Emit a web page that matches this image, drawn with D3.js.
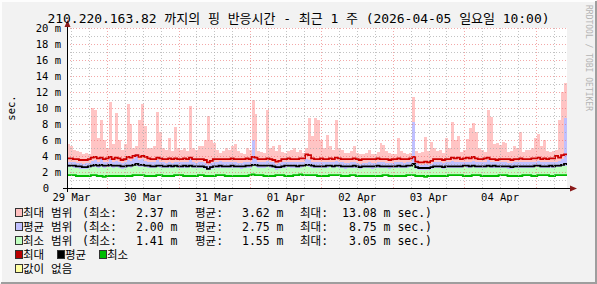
<!DOCTYPE html>
<html>
<head>
<meta charset="utf-8">
<script src="https://cdn.jsdelivr.net/npm/d3@7"></script>
<style>
  body { margin: 0; background: #f2f2f2; }
  svg text { font-family: "DejaVu Sans Mono", "Noto Sans CJK KR", monospace; white-space: pre; }
</style>
</head>
<body>
<svg id="chart" width="597" height="284"></svg>
<script>
// hourly samples, 2026-03-29 10:30 UTC .. 2026-04-05 10:30 UTC (168 hours)
const maxHi = [
  5.5,5.2,4.8,4.6,4.5,4.3,4.4,4.2,10.0,9.8, 6.2,8.5,6.0,5.0,10.7,5.5,9.4,6.0,4.8,5.5,
  10.5,8.0,5.0,5.2,8.5,10.5,7.8,5.0,5.0,5.2, 9.5,7.0,5.0,4.8,6.2,4.6,7.6,5.0,4.7,5.0,
  4.6,10.3,5.0,4.8,5.2,5.3,6.0,9.0,6.0,5.6, 4.8,4.4,4.6,5.0,4.8,5.2,5.5,4.6,4.4,4.3,
  5.0,4.8,11.0,9.3,4.6,4.5,4.4,9.7,5.0,5.2, 4.6,5.4,4.5,4.4,4.6,4.7,5.0,4.5,4.8,4.4,
  5.0,8.8,6.5,8.8,8.5,6.0,5.0,6.6,5.2,4.8, 8.5,5.0,4.8,4.4,4.4,4.6,5.3,4.4,4.2,4.3,
  4.4,4.8,4.3,4.2,4.5,5.6,5.4,4.6,4.4,4.3, 4.2,6.3,4.6,4.4,4.2,4.4,11.4,4.6,4.4,4.5,
  6.4,4.6,5.8,5.0,4.6,4.7,4.4,6.2,5.0,8.3, 6.0,6.5,4.5,4.8,6.1,7.5,8.1,7.0,5.0,4.8,
  4.5,9.7,8.9,5.5,5.6,5.4,5.8,5.6,4.5,4.6, 5.3,5.0,7.0,4.5,4.7,4.8,5.0,6.2,6.8,5.2,
  6.0,4.6,4.5,4.6,4.8,8.5,12.0,13.08
];
const maxLine = [
  3.7,3.7,3.6,3.6,3.5,3.5,3.5,3.6,3.8,3.9, 3.7,3.8,3.6,3.7,3.9,3.6,3.8,3.7,3.5,3.6,
  3.9,3.8,4.0,4.1,3.9,4.0,3.9,3.7,3.6,3.6, 3.8,3.7,3.6,3.6,3.7,3.6,3.7,3.6,3.6,3.7,
  3.6,3.8,3.6,3.6,3.6,3.6,3.5,3.2,3.4,3.6, 3.6,3.6,3.6,3.6,3.6,3.7,3.6,3.6,3.6,3.6,
  3.7,3.6,3.9,3.8,3.6,3.6,3.6,3.7,3.6,3.5, 3.3,3.4,3.6,3.6,3.7,3.6,3.6,3.6,3.7,3.7,
  4.2,4.1,3.7,3.6,3.6,3.7,3.6,3.6,3.7,3.6, 3.8,3.7,3.6,3.6,3.6,3.6,3.7,3.6,3.5,3.6,
  3.6,3.6,3.6,3.6,3.7,3.6,3.6,3.6,3.5,3.6, 3.6,3.7,3.6,3.6,3.6,3.7,3.9,3.3,3.2,3.2,
  3.3,3.2,3.4,3.6,3.6,3.6,3.5,3.6,3.6,3.8, 3.7,3.8,3.6,3.7,3.8,3.7,3.9,3.7,3.6,3.6,
  3.7,3.8,3.6,3.6,3.5,3.6,3.6,3.6,3.6,3.5, 3.6,3.6,3.7,3.6,3.6,3.6,3.7,3.7,3.8,3.6,
  3.7,3.6,3.7,3.7,4.0,3.8,4.1,4.2
];
const avgHi = [
  3.3,3.2,3.2,3.1,3.1,3.0,3.1,3.1,3.4,3.5, 3.3,3.9,3.3,3.3,3.6,3.2,3.4,3.3,3.1,3.2,
  3.5,3.4,3.6,4.3,3.5,3.6,3.4,3.3,3.2,3.2, 3.5,3.3,3.2,3.1,3.3,3.1,3.3,3.2,3.2,3.3,
  3.2,3.6,3.2,3.1,3.2,3.2,3.1,2.9,3.1,3.3, 3.2,3.4,3.2,3.2,3.2,3.3,3.2,3.1,3.1,3.2,
  3.3,3.2,6.0,3.6,3.3,3.2,3.2,3.4,3.3,3.2, 3.0,3.1,3.2,3.2,3.3,3.3,3.3,3.2,3.3,3.3,
  3.6,3.5,3.3,3.2,3.2,3.2,3.2,3.3,3.3,3.2, 3.4,3.3,3.2,3.1,3.1,3.2,3.3,3.1,3.0,3.1,
  3.1,3.2,3.1,3.1,3.2,3.2,3.2,3.1,3.1,3.1, 3.2,3.3,3.2,3.1,3.2,3.3,8.2,3.1,2.9,2.9,
  3.0,2.9,3.0,3.2,3.2,3.2,3.1,3.2,3.2,3.4, 3.2,3.3,3.2,3.3,3.3,3.3,3.4,3.3,3.2,3.2,
  3.2,3.5,3.2,3.3,3.2,3.2,3.2,3.2,3.1,3.1, 3.2,3.2,3.3,3.2,3.2,3.2,3.3,3.3,3.4,3.2,
  3.2,3.2,3.3,3.2,3.3,3.4,3.6,8.75
];
const avgLine = [
  2.8,2.8,2.8,2.7,2.7,2.6,2.6,2.7,2.8,2.9, 2.8,2.9,2.8,2.8,2.9,2.8,2.8,2.8,2.7,2.7,
  2.8,2.8,2.9,3.0,2.9,2.9,2.8,2.8,2.7,2.7, 2.8,2.8,2.7,2.7,2.8,2.7,2.8,2.7,2.7,2.8,
  2.7,2.8,2.7,2.7,2.7,2.7,2.6,2.4,2.6,2.7, 2.7,2.8,2.7,2.7,2.7,2.8,2.7,2.7,2.7,2.7,
  2.8,2.8,2.9,2.9,2.8,2.8,2.8,2.8,2.8,2.7, 2.6,2.6,2.7,2.8,2.8,2.8,2.8,2.7,2.8,2.8,
  2.9,2.9,2.8,2.7,2.7,2.7,2.7,2.8,2.8,2.7, 2.8,2.8,2.7,2.7,2.7,2.7,2.8,2.7,2.6,2.7,
  2.7,2.7,2.7,2.7,2.8,2.7,2.7,2.7,2.7,2.7, 2.7,2.8,2.7,2.7,2.8,2.8,3.0,2.6,2.5,2.5,
  2.5,2.5,2.6,2.7,2.7,2.7,2.6,2.7,2.7,2.7, 2.7,2.7,2.7,2.8,2.8,2.7,2.8,2.7,2.7,2.7,
  2.7,2.8,2.7,2.8,2.7,2.7,2.7,2.7,2.7,2.6, 2.7,2.7,2.7,2.7,2.7,2.7,2.7,2.8,2.8,2.7,
  2.7,2.7,2.8,2.7,2.8,2.8,2.9,3.0
];
const minHi = [
  2.6,2.6,2.5,2.5,2.4,2.4,2.4,2.5,2.6,2.6, 2.5,2.6,2.5,2.6,2.6,2.5,2.6,2.5,2.4,2.5,
  2.6,2.5,2.7,2.7,2.6,2.6,2.6,2.5,2.5,2.5, 2.6,2.5,2.5,2.5,2.5,2.5,2.6,2.5,2.5,2.5,
  2.5,2.6,2.5,2.5,2.5,2.5,2.4,2.2,2.4,2.5, 2.5,2.5,2.5,2.5,2.5,2.5,2.5,2.5,2.4,2.5,
  2.5,2.5,2.7,2.6,2.5,2.5,2.5,2.6,2.5,2.5, 2.3,2.4,2.5,2.5,2.6,2.5,2.5,2.5,2.5,2.6,
  2.7,2.6,2.5,2.5,2.5,2.5,2.5,2.5,2.6,2.5, 2.6,2.5,2.5,2.4,2.5,2.5,2.5,2.5,2.4,2.5,
  2.5,2.5,2.4,2.5,2.5,2.5,2.5,2.5,2.4,2.5, 2.5,2.5,2.5,2.5,2.5,2.6,3.05,2.4,2.3,2.3,
  2.3,2.3,2.4,2.5,2.5,2.5,2.4,2.5,2.5,2.5, 2.5,2.5,2.5,2.6,2.5,2.5,2.6,2.5,2.5,2.5,
  2.5,2.6,2.5,2.5,2.5,2.5,2.5,2.5,2.4,2.4, 2.5,2.5,2.5,2.5,2.5,2.5,2.5,2.6,2.6,2.5,
  2.5,2.5,2.5,2.5,2.6,2.6,2.7,2.8
];
const minLine = [
  1.6,1.6,1.6,1.5,1.5,1.5,1.5,1.5,1.6,1.6, 1.5,1.5,1.4,1.5,1.5,1.5,1.5,1.5,1.5,1.5,
  1.5,1.5,1.6,1.6,1.6,1.6,1.5,1.5,1.5,1.5, 1.6,1.6,1.5,1.5,1.5,1.5,1.6,1.6,1.6,1.5,
  1.5,1.5,1.5,1.5,1.6,1.6,1.5,1.5,1.5,1.5, 1.6,1.6,1.6,1.5,1.5,1.5,1.5,1.5,1.5,1.5,
  1.5,1.6,1.7,1.6,1.6,1.6,1.5,1.5,1.5,1.5, 1.6,1.6,1.6,1.5,1.5,1.5,1.6,1.6,1.7,1.6,
  1.6,1.6,1.6,1.6,1.5,1.5,1.5,1.5,1.6,1.6, 1.6,1.6,1.5,1.5,1.5,1.6,1.6,1.5,1.5,1.5,
  1.5,1.5,1.5,1.5,1.5,1.5,1.6,1.6,1.5,1.5, 1.5,1.5,1.5,1.5,1.6,1.6,1.6,1.5,1.5,1.5,
  1.4,1.5,1.5,1.5,1.5,1.5,1.5,1.5,1.6,1.6, 1.6,1.6,1.6,1.5,1.5,1.5,1.6,1.6,1.6,1.5,
  1.5,1.5,1.5,1.5,1.5,1.6,1.6,1.6,1.5,1.5, 1.5,1.5,1.5,1.6,1.6,1.6,1.5,1.5,1.6,1.6,
  1.6,1.6,1.5,1.5,1.6,1.6,1.6,1.6
];

const yTicks = [2, 4, 6, 8, 10, 12, 14, 16, 18, 20];
const title = "210.220.163.82 까지의 핑 반응시간 - 최근 1 주 (2026-04-05 일요일 10:00)";
const rangeNames = ["최대 범위", "평균 범위", "최소 범위"];
const statMin = ["2.37", "2.00", "1.41"];
const statAvg = ["3.62", "2.75", "1.55"];
const statMax = ["13.08", "8.75", "3.05"];
const lineNames = ["최대", "평균", "최소"];

const W = 597, H = 284;
const t0 = new Date(Date.UTC(2026, 2, 29, 10, 30));
const t1 = new Date(Date.UTC(2026, 3, 5, 10, 30));
const hour = 3600 * 1000;

const svg = d3.select("#chart");
const x = d3.scaleTime().domain([t0, t1]).range([67, 567]);
const y = d3.scaleLinear().domain([0, 20]).range([188, 28]);

// frame
svg.append("rect").attr("width", W).attr("height", H).attr("fill", "#f2f2f2");
svg.append("path").attr("d", `M1,${H - 1}V1H${W - 1}`).attr("fill", "none").attr("stroke", "#fdfdfd").attr("stroke-width", 2);
svg.append("path").attr("d", `M1,${H - 1}H${W - 1}V1`).attr("fill", "none").attr("stroke", "#9e9e9e").attr("stroke-width", 2);

// canvas
svg.append("rect").attr("x", 67).attr("y", 28).attr("width", 500).attr("height", 160).attr("fill", "#fff");

const rows = maxHi.map((v, i) => ({
  t: new Date(t0.getTime() + i * hour),
  maxHi: v, maxLine: maxLine[i], avgHi: avgHi[i], avgLine: avgLine[i],
  minHi: minHi[i], minLine: minLine[i]
}));
rows.push({ ...rows[rows.length - 1], t: t1 });

const band = key => d3.area().curve(d3.curveStepAfter)
  .x(d => x(d.t)).y0(d => y(d.minLine)).y1(d => y(d[key]));
const line = key => d3.line().curve(d3.curveStepAfter)
  .x(d => x(d.t)).y(d => y(d[key]));

const g = svg.append("g");
g.append("path").datum(rows).attr("d", band("maxHi")).attr("fill", "#ffc4c4").attr("shape-rendering", "crispEdges");
g.append("path").datum(rows).attr("d", band("avgHi")).attr("fill", "#c0c0ff").attr("shape-rendering", "crispEdges");
g.append("path").datum(rows).attr("d", band("minHi")).attr("fill", "#c0ffc0").attr("shape-rendering", "crispEdges");
g.append("path").datum(rows).attr("d", line("maxLine")).attr("fill", "none").attr("stroke", "#cc0000").attr("stroke-width", 1.8);
g.append("path").datum(rows).attr("d", line("avgLine")).attr("fill", "none").attr("stroke", "#000").attr("stroke-width", 1.8);
g.append("path").datum(rows).attr("d", line("minLine")).attr("fill", "none").attr("stroke", "#00bb00").attr("stroke-width", 1.8);

// grid (drawn over the graph, as rrdtool does)
const grid = svg.append("g").attr("shape-rendering", "crispEdges").attr("fill", "none");
d3.range(1, 21).filter(v => v % 2).forEach(v => {
  grid.append("line").attr("x1", 67).attr("x2", 567).attr("y1", y(v) + 0.5).attr("y2", y(v) + 0.5)
    .attr("stroke", "rgba(170,170,170,0.7)").attr("stroke-dasharray", "1,2");
});
d3.utcHour.every(6).range(t0, t1).forEach(t => {
  if (t.getUTCHours() === 0) return;
  grid.append("line").attr("x1", Math.round(x(t)) + 0.5).attr("x2", Math.round(x(t)) + 0.5).attr("y1", 28).attr("y2", 188)
    .attr("stroke", "rgba(170,170,170,0.7)").attr("stroke-dasharray", "1,2");
});
yTicks.forEach(v => {
  grid.append("line").attr("x1", 67).attr("x2", 567).attr("y1", y(v) + 0.5).attr("y2", y(v) + 0.5)
    .attr("stroke", "rgba(235,110,110,0.6)").attr("stroke-dasharray", "1,2");
});
d3.utcDay.range(t0, t1).forEach(t => {
  grid.append("line").attr("x1", Math.round(x(t)) + 0.5).attr("x2", Math.round(x(t)) + 0.5).attr("y1", 28).attr("y2", 188)
    .attr("stroke", "rgba(235,110,110,0.6)").attr("stroke-dasharray", "1,2");
});

// axes
svg.append("line").attr("x1", 63).attr("x2", 572).attr("y1", 188.5).attr("y2", 188.5).attr("stroke", "#000");
svg.append("line").attr("x1", 67.5).attr("x2", 67.5).attr("y1", 192).attr("y2", 25).attr("stroke", "#000");
svg.append("path").attr("d", "M570,185.5L577,188.5L570,191.5Z").attr("fill", "#8b1a1a");
svg.append("path").attr("d", "M64.5,27L67.5,20L70.5,27Z").attr("fill", "#8b1a1a");

const ax = svg.append("g").attr("font-size", 10.5).attr("fill", "#000");
yTicks.forEach(v => {
  ax.append("text").attr("x", 61).attr("y", y(v) + 4).attr("text-anchor", "end").text(v + " m");
});
ax.append("text").attr("x", 49).attr("y", y(0) + 4).attr("text-anchor", "end").text("0");
const fmt = d3.utcFormat("%d %b");
d3.utcDay.range(d3.utcDay.floor(t0), t1).forEach(d => {
  const noon = new Date(d.getTime() + 12 * hour);
  if (noon < t0 || noon > t1) return;
  ax.append("text").attr("x", x(noon)).attr("y", 201).attr("text-anchor", "middle").text(fmt(noon));
});
ax.append("text").attr("transform", "translate(15,108) rotate(-90)").attr("text-anchor", "middle").text("sec.");

// title
svg.append("text").attr("x", 298.5).attr("y", 23).attr("text-anchor", "middle")
  .attr("font-size", 13).attr("textLength", 502).attr("lengthAdjust", "spacing").text(title);

// watermark
svg.append("text").attr("transform", "translate(586,5) rotate(90)").attr("font-size", 8)
  .attr("fill", "#b4b4b4").text("RRDTOOL / TOBI OETIKER");

// legend
const leg = svg.append("g").attr("font-size", 11.5).attr("fill", "#000");
const swatch = (sx, sy, c) => leg.append("rect").attr("x", sx + 0.5).attr("y", sy + 0.5)
  .attr("width", 7).attr("height", 8).attr("fill", c).attr("stroke", "#333");
const bandColors = ["#ffc0c0", "#c0c0ff", "#c0ffc0"];
rangeNames.forEach((name, i) => {
  const by = 217 + i * 14;
  swatch(15, by - 9, bandColors[i]);
  leg.append("text").attr("x", 23).attr("y", by).text(name);
  leg.append("text").attr("x", 82).attr("y", by).text("(최소:");
  leg.append("text").attr("x", 136).attr("y", by).text(statMin[i].padStart(4) + " m");
  leg.append("text").attr("x", 195).attr("y", by).text("평균:");
  leg.append("text").attr("x", 242).attr("y", by).text(statAvg[i].padStart(4) + " m");
  leg.append("text").attr("x", 300).attr("y", by).text("최대:");
  leg.append("text").attr("x", 342).attr("y", by).text(statMax[i].padStart(5) + " m sec.)");
});
const lineColors = ["#bb0000", "#000000", "#00bb00"];
const lineX = [15, 57, 99];
lineNames.forEach((name, i) => {
  swatch(lineX[i], 250, lineColors[i]);
  leg.append("text").attr("x", lineX[i] + 8).attr("y", 259).text(name);
});
swatch(15, 264, "#ffffa0");
leg.append("text").attr("x", 23).attr("y", 273).text("값이 없음");
</script>
</body>
</html>
